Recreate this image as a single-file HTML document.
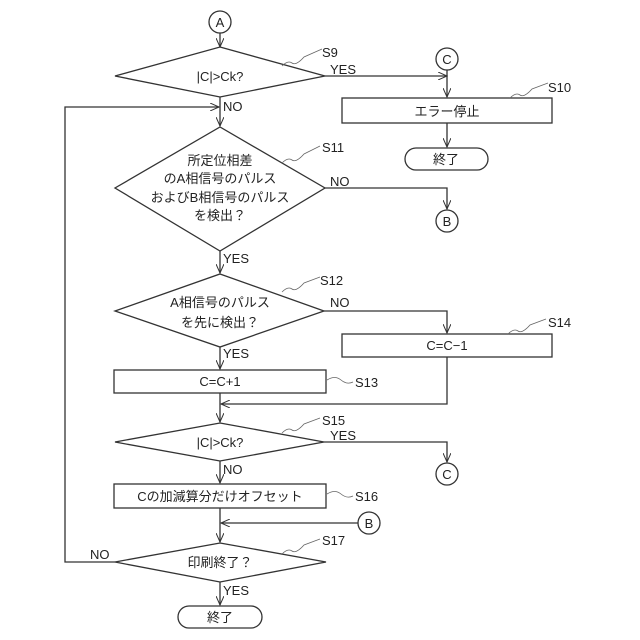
<!DOCTYPE html>
<html><head><meta charset="utf-8"><style>body{margin:0;background:#fff}svg{display:block}text{font-family:"Liberation Sans","Noto Sans CJK JP",sans-serif;fill:#222}</style></head><body>
<svg width="640" height="640" viewBox="0 0 640 640" xmlns="http://www.w3.org/2000/svg">
<defs><marker id="a" markerWidth="10" markerHeight="8" refX="9" refY="4" orient="auto" markerUnits="userSpaceOnUse"><path d="M0,0 L9,4 L0,8" fill="none" stroke="#333" stroke-width="1"/></marker></defs>
<g stroke="#333" stroke-width="1.3" fill="none">
<circle cx="220" cy="22" r="11"/>
<line x1="220" y1="33" x2="220" y2="47" marker-end="url(#a)"/>
<polygon points="220,47 325,76 220,97 115,76" fill="#fff"/>
<line x1="325" y1="76" x2="447" y2="76" marker-end="url(#a)"/>
<circle cx="447" cy="59" r="11"/>
<line x1="447" y1="70" x2="447" y2="97" marker-end="url(#a)"/>
<rect x="342" y="98" width="210" height="25"/>
<line x1="447" y1="123" x2="447" y2="147" marker-end="url(#a)"/>
<rect x="405" y="148" width="83" height="22" rx="11"/>
<line x1="220" y1="97" x2="220" y2="126" marker-end="url(#a)"/>
<polyline points="115,562 65,562 65,107 219,107" marker-end="url(#a)"/>
<polygon points="220,127 325,188 220,251 115,188" fill="none"/>
<polyline points="325,188 447,188 447,209" marker-end="url(#a)"/>
<circle cx="447" cy="221" r="11"/>
<line x1="220" y1="251" x2="220" y2="273" marker-end="url(#a)"/>
<polygon points="220,274 324,311 220,347 115,311"/>
<polyline points="324,311 447,311 447,333" marker-end="url(#a)"/>
<rect x="342" y="334" width="210" height="23"/>
<line x1="220" y1="347" x2="220" y2="369" marker-end="url(#a)"/>
<rect x="114" y="370" width="212" height="23"/>
<polyline points="447,357 447,404 221,404" marker-end="url(#a)"/>
<line x1="220" y1="393" x2="220" y2="422" marker-end="url(#a)"/>
<polygon points="220,423 324,442 220,461 115,442"/>
<polyline points="324,442 447,442 447,462" marker-end="url(#a)"/>
<circle cx="447" cy="474" r="11"/>
<line x1="220" y1="461" x2="220" y2="483" marker-end="url(#a)"/>
<rect x="114" y="484" width="212" height="24"/>
<circle cx="369" cy="523" r="11"/>
<line x1="358" y1="523" x2="221" y2="523" marker-end="url(#a)"/>
<line x1="220" y1="508" x2="220" y2="542" marker-end="url(#a)"/>
<polygon points="220,543 326,562 220,582 115,562"/>
<line x1="220" y1="582" x2="220" y2="605" marker-end="url(#a)"/>
<rect x="178" y="606" width="84" height="22" rx="11"/>
<g stroke-width="0.8" stroke="#666">
<path d="M282,66 q6,-6 10,-3 t12,-6 l18,-8"/>
<path d="M510,98 q6,-6 10,-3 t12,-6 l16,-6"/>
<path d="M282,163 q6,-6 10,-3 t12,-6 l16,-8"/>
<path d="M282,292 q6,-6 10,-3 t12,-6 l16,-6"/>
<path d="M508,334 q6,-6 10,-3 t12,-6 l16,-6"/>
<path d="M327,380 q8,-5 14,0 t12,2"/>
<path d="M282,433 q6,-6 10,-3 t12,-6 l16,-6"/>
<path d="M327,494 q8,-5 14,0 t12,2"/>
<path d="M282,554 q6,-6 10,-3 t12,-6 l16,-6"/>
</g>
</g>
<g font-size="13" text-anchor="middle">
<text x="220" y="27">A</text>
<text x="447" y="64">C</text>
<text x="447" y="226">B</text>
<text x="447" y="479">C</text>
<text x="369" y="528">B</text>
<text x="220" y="81">|C|&gt;Ck?</text>
<text x="447" y="116">エラー停止</text>
<text x="446" y="164">終了</text>
<text x="220" y="165">所定位相差</text>
<text x="220" y="183">のA相信号のパルス</text>
<text x="220" y="202">およびB相信号のパルス</text>
<text x="220" y="220">を検出？</text>
<text x="220" y="307">A相信号のパルス</text>
<text x="220" y="327">を先に検出？</text>
<text x="447" y="350">C=C−1</text>
<text x="220" y="386">C=C+1</text>
<text x="220" y="447">|C|&gt;Ck?</text>
<text x="220" y="501">Cの加減算分だけオフセット</text>
<text x="220" y="567">印刷終了？</text>
<text x="220" y="622">終了</text>
</g>
<g font-size="13">
<text x="322" y="57">S9</text>
<text x="548" y="92">S10</text>
<text x="322" y="152">S11</text>
<text x="320" y="285">S12</text>
<text x="548" y="327">S14</text>
<text x="355" y="387">S13</text>
<text x="322" y="425">S15</text>
<text x="355" y="501">S16</text>
<text x="322" y="545">S17</text>
<text x="330" y="74">YES</text>
<text x="223" y="111">NO</text>
<text x="330" y="186">NO</text>
<text x="223" y="263">YES</text>
<text x="330" y="307">NO</text>
<text x="223" y="358">YES</text>
<text x="330" y="440">YES</text>
<text x="223" y="474">NO</text>
<text x="90" y="559">NO</text>
<text x="223" y="595">YES</text>
</g>
</svg>
</body></html>
